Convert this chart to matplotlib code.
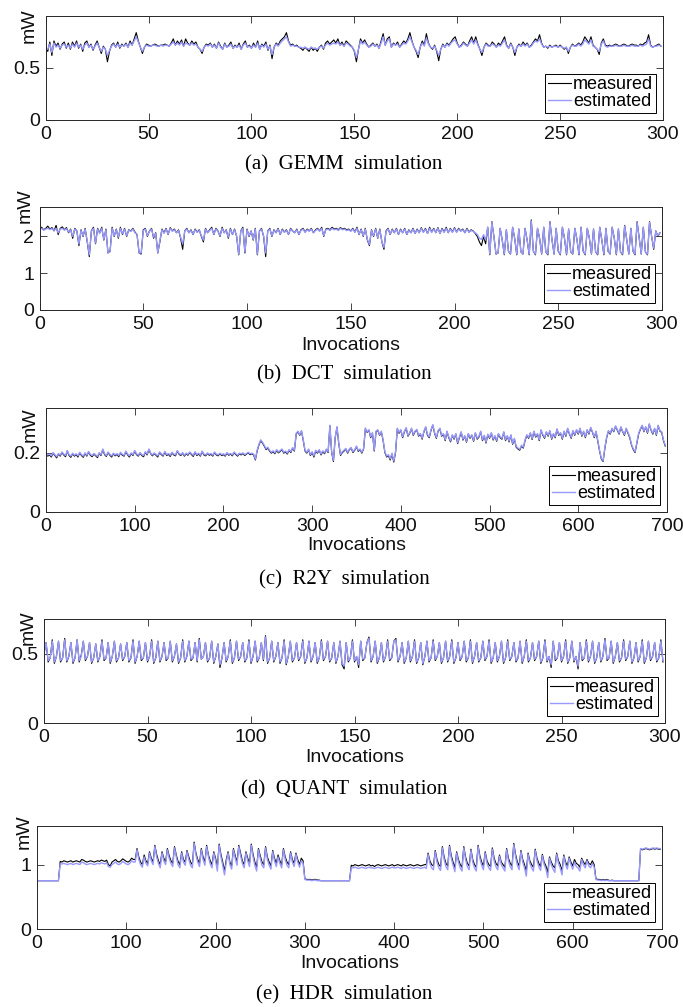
import numpy as np
import matplotlib
matplotlib.use('Agg')
import matplotlib.pyplot as plt
from matplotlib.ticker import FormatStrFormatter

# ---------------- data ----------------
gemm_measured = [
70,66,75,62,76,71,74,68,73,75, 69,74,68,75,71,76,69,73,66,74, 76,70,73,67,72,76,70,64,71,68,
56,66,72,74,70,75,69,73,71,74, 70,76,72,78,84,76,70,64,70,73, 72,71,72,73,72,71,72,72,73,72,
71,74,78,72,76,73,77,71,78,74, 72,76,73,75,70,68,64,70,73,72, 74,70,73,69,75,71,68,74,70,72,
75,69,72,70,74,68,73,76,70,72, 69,74,70,76,68,73,71,75,67,72, 59,70,74,72,76,78,80,84,76,72,
73,71,72,70,69,67,70,68,66,70, 67,69,66,70,72,68,74,76,73,75, 77,74,78,72,75,71,76,74,72,70,
66,56,68,78,74,77,73,70,72,74, 71,73,69,76,83,72,78,80,70,74, 72,75,70,73,76,74,78,84,76,70,
66,60,70,76,72,83,74,70,68,72, 66,57,68,73,70,74,72,75,78,80, 74,70,72,75,73,71,76,80,74,80,
73,68,62,70,74,72,71,75,73,70, 74,72,76,80,72,69,74,70,62,70, 73,71,75,72,74,70,72,75,78,76,
82,74,70,71,69,72,70,71,72,70, 72,70,68,70,64,70,73,71,72,74, 72,75,80,77,74,80,72,70,68,63,
74,78,72,71,72,71,72,73,72,71, 72,73,72,71,72,73,72,72,71,73, 72,74,75,82,72,70,71,72,73,71]
gemm_estimated = [
69,68,73,65,74,70,72,69,72,73, 70,72,69,73,70,74,70,72,68,72, 74,70,72,68,71,74,70,66,70,68,
62,67,71,73,70,73,70,72,71,73, 70,74,72,76,80,75,70,66,70,72, 71,71,72,72,71,71,72,71,72,72,
71,73,75,72,74,72,75,71,74,73, 72,74,72,73,70,68,66,70,72,71, 73,70,72,69,74,70,68,73,70,71,
73,69,71,70,72,68,72,74,70,71, 69,72,70,74,68,72,70,73,68,71, 63,70,73,71,74,76,78,80,75,71,
72,71,71,70,70,69,70,69,68,70, 69,69,68,70,71,69,72,74,72,73, 74,73,75,72,73,71,74,73,71,70,
67,60,68,76,73,75,72,70,71,73, 71,72,69,74,80,72,76,78,70,73, 72,73,70,72,74,73,76,80,75,70,
67,63,70,74,71,79,73,70,69,71, 67,62,68,72,70,73,71,74,76,77, 73,70,71,74,72,71,74,77,73,77,
72,68,65,70,73,71,71,73,72,70, 72,71,74,77,71,69,73,70,65,70, 72,71,73,71,73,70,71,74,76,75,
78,73,70,71,70,71,70,71,71,70, 71,70,69,70,66,70,72,71,71,73, 71,73,77,75,73,77,71,70,68,66,
73,76,71,70,71,71,71,72,71,71, 71,72,71,71,71,72,71,71,71,72, 71,72,73,78,71,70,71,71,72,71]

dct_measured = [
220,225,218,222,228,220,224,215,230,205, 222,226,218,224,210,220,195,222,215,175,
218,200,222,185,145,215,225,180,222,210, 225,190,220,155,160,225,200,220,195,225,
205,222,200,218,215,222,212,205,155,152, 218,222,200,215,222,195,210,155,185,220,
210,222,205,224,215,220,210,218,195,165, 215,222,210,218,205,220,212,218,200,185,
222,210,218,225,205,222,215,200,225,210, 218,195,222,205,220,200,150,215,225,155,
220,200,215,190,222,150,215,222,200,145, 215,222,200,218,210,222,205,220,212,218,
205,222,215,210,220,205,218,222,212,220, 215,222,210,218,222,215,225,200,220,222,
218,225,220,222,218,224,220,222,218,220, 215,222,212,225,205,220,200,222,190,175,
218,200,222,195,220,185,165,215,222,205, 220,210,222,205,220,210,222,205,218,210,
222,208,220,210,224,212,222,208,225,212, 222,210,224,208,222,212,225,210,222,212,
224,212,222,215,220,210,222,212,218,215, 208,200,185,175,200,180,225,150,240,200,
152,155,222,190,150,218,160,152,225,195, 150,220,158,152,222,190,150,245,160,150,
222,195,152,225,158,150,240,190,152,222, 160,150,225,195,150,220,158,152,222,192,
150,225,160,150,222,195,152,220,158,150, 225,190,150,222,160,152,225,195,150,220,
158,150,230,192,152,222,160,150,240,195, 152,225,158,150,240,200,165,215,200,210]
dct_estimated = [
218,222,217,220,222,219,221,216,222,210, 220,222,217,221,212,218,200,220,214,180,
216,202,220,188,150,214,222,182,220,208, 222,192,218,155,158,222,202,218,198,222,
207,220,202,216,214,220,210,206,155,155, 216,220,202,214,220,198,208,155,188,218,
208,220,206,222,214,218,210,216,198,180, 214,220,210,216,206,218,211,216,202,190,
220,210,216,222,206,220,214,202,222,210, 216,198,220,206,218,202,152,214,222,158,
218,202,214,192,220,152,214,220,202,155, 214,220,202,216,210,220,206,218,211,216,
206,220,214,210,218,206,216,220,211,218, 214,220,210,216,220,214,222,202,218,220,
216,222,218,220,216,222,218,220,216,218, 214,220,211,222,206,218,202,220,192,178,
216,202,220,196,218,186,170,214,220,206, 218,210,220,206,218,210,220,206,216,210,
220,208,218,210,222,211,220,208,222,211, 220,210,222,208,220,211,222,210,220,211,
222,211,220,214,218,210,220,211,216,214, 210,205,195,192,205,190,225,152,238,200,
153,155,222,190,152,218,160,153,225,195, 152,220,158,153,222,190,152,242,160,152,
222,195,153,225,158,152,238,190,153,222, 160,152,225,195,152,220,158,153,222,192,
152,225,160,152,222,195,153,220,158,152, 225,190,152,222,160,153,225,195,152,220,
158,152,228,192,153,222,160,152,238,195, 153,225,158,152,238,200,168,214,202,210]

# R2Y: one value every 2 invocations (thousandths of mW)
r2y_measured = [
195,188,192,185,198,190,182,195,188,200, 192,186,205,190,184,196,188,193,185,199,
190,184,197,188,202,191,186,195,189,183, 198,190,210,193,187,200,191,185,196,189,
194,186,199,191,188,203,192,185,197,190, 205,193,188,198,190,186,201,192,210,196,
189,197,191,185,200,193,188,202,190,194, 187,199,192,189,205,194,190,198,188,196,
191,200,193,187,201,190,195,188,203,192, 189,197,191,194,188,200,192,189,196,190,
193,188,198,191,195,189,200,193,188,196, 192,197,190,195,199,193,196,192,175,205,
225,240,232,222,210,215,205,198,203,196, 207,199,204,210,198,202,195,208,200,215,
205,262,270,258,272,240,205,198,210,190, 200,185,205,198,208,192,203,196,210,200,
290,200,170,250,285,230,190,200,205,212, 198,210,215,200,208,220,204,210,198,212,
280,268,275,250,265,205,270,275,258,270, 240,200,185,190,175,195,168,200,280,265,
275,250,270,282,255,265,280,258,270,276, 255,262,245,270,285,258,250,275,292,265,
248,272,280,255,262,240,270,250,236,258, 245,262,230,250,268,242,255,235,262,248,
258,238,265,245,252,270,240,256,232,260, 248,265,242,255,238,262,250,245,268,240,
255,236,258,228,245,218,212,208,222,215, 240,258,248,265,244,270,252,262,240,275,
258,248,268,255,272,245,262,250,278,258, 265,245,270,255,280,262,248,272,258,275,
262,280,255,270,250,275,262,283,268,250, 270,238,205,178,170,215,250,272,262,280,
270,288,275,262,285,270,258,280,265,250, 225,210,200,232,262,278,290,270,285,265,
295,275,262,280,258,290,272,268,240,222]
r2y_estimated = [
198,192,195,189,200,193,186,197,191,202, 195,190,207,193,188,198,191,196,189,201,
193,188,199,191,204,194,190,197,192,187, 200,193,212,196,190,202,194,189,198,192,
197,190,201,194,191,205,195,189,199,193, 207,196,191,200,193,190,203,195,212,198,
192,199,194,189,202,196,191,204,193,197, 191,201,195,192,207,197,193,200,191,198,
194,202,196,191,203,193,198,191,205,195, 192,199,194,197,191,202,195,192,198,193,
196,191,200,194,197,192,202,196,191,198, 195,199,193,197,201,196,198,195,178,208,
228,243,235,225,213,218,208,201,206,199, 210,202,207,212,201,205,198,210,203,217,
208,265,272,260,274,243,208,201,212,193, 203,189,208,201,210,195,206,199,212,203,
292,203,174,252,287,233,193,203,208,214, 201,212,217,203,210,222,207,212,201,214,
283,270,277,253,267,208,272,277,260,272, 243,203,188,193,179,198,172,203,282,268,
277,253,272,284,258,267,282,261,272,278, 258,264,248,272,287,261,253,277,294,268,
251,274,282,258,264,243,272,253,239,260, 248,264,233,253,270,245,257,238,264,251,
260,241,267,248,255,272,243,258,235,262, 251,267,245,257,241,264,253,248,270,243,
257,239,260,231,248,221,215,211,225,218, 243,260,251,267,247,272,255,264,243,277,
261,251,270,258,274,248,264,253,280,261, 267,248,272,258,282,264,251,274,261,277,
265,282,258,272,253,277,265,285,270,253, 272,241,208,181,173,218,253,274,265,282,
272,290,277,265,287,272,261,282,268,253, 228,213,203,235,265,280,292,272,287,268,
297,277,265,282,261,292,274,270,243,225]

quant_measured = [
50,58,44,47,60,43,48,59,44,47,61,44,48,58,43,47,60,44,49,59,45,48,58,43,47,57,44,48,60,45,
47,58,43,48,59,44,47,57,45,48,58,44,47,60,43,48,59,45,47,58,44,48,60,43,47,59,44,48,58,45,
47,59,44,48,57,43,47,60,44,48,59,45,47,58,44,61,46,48,58,44,47,59,43,48,57,40,47,58,44,48,
60,43,47,59,45,48,58,44,47,60,43,48,59,44,47,58,45,63,43,47,59,44,48,58,43,47,60,42,48,59,
44,47,58,45,48,60,43,47,59,44,48,58,43,47,60,45,48,59,44,47,58,43,48,59,42,39,58,44,47,60,
44,48,40,59,45,47,58,62,44,48,59,43,47,58,44,48,60,45,47,59,61,44,48,58,43,47,59,44,48,60,
43,47,58,42,48,59,44,47,60,45,48,58,43,47,59,44,48,60,43,47,58,45,48,59,44,47,60,43,48,58,
44,47,59,45,48,60,43,47,58,44,48,59,43,47,60,45,48,58,44,47,59,43,48,60,44,47,58,45,48,59,
43,47,60,44,48,40,59,45,47,58,44,48,60,43,47,59,44,48,39,58,45,47,60,44,48,59,43,47,58,44,
48,61,45,47,59,43,48,58,44,47,60,45,48,59,43,47,58,44,48,60,43,47,59,45,48,58,44,47,60,44]
quant_estimated = [
50,58,45,47,59,44,48,59,45,47,60,45,48,58,44,47,60,45,48,59,46,48,58,44,47,57,45,48,59,46,
47,58,44,48,59,45,47,57,46,48,58,45,47,59,44,48,59,46,47,58,45,48,59,44,47,59,45,48,58,46,
47,59,45,48,57,44,47,59,45,48,59,46,47,58,45,60,46,48,58,45,47,59,44,48,57,42,47,58,45,48,
59,44,47,59,46,48,58,45,47,59,44,48,59,45,47,58,46,62,44,47,59,45,48,58,44,47,59,43,48,59,
45,47,58,46,48,59,44,47,59,45,48,58,44,47,59,46,48,59,45,47,58,44,48,59,43,41,58,45,47,59,
45,48,42,59,46,47,58,61,45,48,59,44,47,58,45,48,59,46,47,59,60,45,48,58,44,47,59,45,48,59,
44,47,58,43,48,59,45,47,59,46,48,58,44,47,59,45,48,59,44,47,58,46,48,59,45,47,59,44,48,58,
45,47,59,46,48,59,44,47,58,45,48,59,44,47,59,46,48,58,45,47,59,44,48,59,45,47,58,46,48,59,
44,47,59,45,48,42,59,46,47,58,45,48,59,44,47,59,45,48,41,58,46,47,59,45,48,59,44,47,58,45,
48,60,46,47,59,44,48,58,45,47,59,46,48,59,44,47,58,45,48,59,44,47,59,46,48,58,45,47,59,45]

# HDR: one value every 2 invocations (hundredths of mW)
hdr_measured = [
75,75,75,75,75,75,75,75,75,75,75,75,75,
105,104,106,105,104,105,106,104,105,106,105,104,108,107,105,104,105,106,105,104,105,106,105,107,106,105,107,
100,98,104,106,108,105,104,106,109,107,105,104,106,110,108,
108,125,112,104,100,115,106,102,120,110, 104,130,116,106,100,120,110,104,125,114,
106,102,128,115,105,100,120,108,104,122, 112,104,100,135,118,108,102,125,112,104,
130,115,106,100,120,110,96,132,116,104, 90,108,120,104,98,125,114,104,130,118,
106,100,120,110,102,132,116,104,96,125, 114,104,100,128,112,104,98,122,110,102,
115,106,100,125,112,104,100,120,108,102, 118,108,100,110,106,
78,77,77,77,76,77,77,76,76,75,75,75,75,75,75,75,75,75,75,75,75,75,75,75,75,75,
99,98,100,99,98,99,100,99,98,99,100,98,99,97,99,100,99,98,99,100,99,98,99,100,98,99,100,99,98,100,99,98,99,100,99,98,99,100,99,98,99,100,
100,118,106,100,98,122,108,100,97,128, 112,102,98,130,114,104,95,120,108,100,
96,128,112,102,98,124,108,100,96,130, 114,104,98,120,106,100,97,126,110,102,
98,115,104,100,96,125,110,102,98,133, 116,104,98,122,108,100,90,118,106,100,
96,124,110,102,97,116,104,98,88,112, 104,98,95,118,106,100,90,115,104,98,
112,104,98,108,102,100,96,110,104,100, 108,102,100,106,100,
78,77,77,76,77,76,77,76,75,76,75,75,75,75,75,75,75,75,75,75,75,75,75,75,75,
124,123,124,125,124,123,124,125,124,125,124,124]
hdr_estimated = [
75,75,75,75,75,75,75,75,75,75,75,75,75,
101,101,102,101,100,101,102,100,101,102,101,100,104,103,101,100,101,102,101,100,101,102,101,103,102,101,103,
97,96,100,102,104,101,100,102,105,103,101,100,102,106,104,
104,123,108,100,96,112,102,98,118,106, 100,128,112,102,95,118,106,100,123,110,
102,97,126,112,100,95,118,104,99,120, 108,99,95,133,115,104,97,123,108,99,
128,112,101,95,118,106,90,130,112,99, 84,104,118,100,93,123,110,99,128,114,
102,95,118,106,97,130,112,99,90,123, 110,99,95,126,108,99,93,120,106,97,
112,102,95,123,108,99,95,118,104,97, 116,104,96,106,102,
77,76,76,76,75,76,76,75,75,75,75,75,75,75,75,75,75,75,75,75,75,75,75,75,75,75,
95,95,96,95,94,95,96,95,94,95,96,95,95,94,95,96,95,94,95,96,95,94,95,96,95,95,96,95,94,96,95,94,95,96,95,94,95,96,95,94,95,96,
94,116,102,95,92,120,104,95,91,126, 108,97,92,128,110,99,89,118,104,95,
90,126,108,97,92,122,104,95,90,128, 110,99,92,118,102,95,91,124,106,97,
92,113,100,95,90,123,106,97,92,131, 112,99,92,120,104,95,82,116,102,95,
90,122,106,97,91,114,100,93,80,110, 100,93,88,116,102,95,84,113,100,93,
110,100,93,104,97,95,90,108,100,95, 106,98,95,102,96,
77,76,76,75,76,75,76,75,75,75,75,75,75,75,75,75,75,75,75,75,75,75,75,75,75,
125,124,125,126,125,124,125,126,125,126,125,125]

captions = ['(a)  GEMM  simulation', '(b)  DCT  simulation', '(c)  R2Y  simulation',
            '(d)  QUANT  simulation', '(e)  HDR  simulation']
legend_labels = ['measured', 'estimated']
x_label = 'Invocations'
y_label = 'mW'

# ---------------- layout ----------------
W, H, DPI = 683, 1007, 100
fig = plt.figure(figsize=(W / DPI, H / DPI), dpi=DPI)
fig.patch.set_facecolor('white')
plt.rcParams['font.family'] = ['Liberation Sans', 'DejaVu Sans']

EDGE = '#262626'
BLUE = '#9999ff'

panels = [
    dict(box=(45.7, 16, 663, 120), m=gemm_measured, e=gemm_estimated, scale=100, step=1,
         xmax=300, xt=np.arange(0, 301, 50), ytop=1.0, yt=[0, 0.5], xl=None,
         cap_y=165, mw=(-17, 10)),
    dict(box=(39.5, 207, 662, 310), m=dct_measured, e=dct_estimated, scale=100, step=1,
         xmax=300, xt=np.arange(0, 301, 50), ytop=2.8, yt=[0, 1, 2], xl=345,
         cap_y=375, mw=(-14, -1)),
    dict(box=(46, 408, 667, 512), m=r2y_measured, e=r2y_estimated, scale=1000, step=2,
         xmax=700, xt=np.arange(0, 701, 100), ytop=0.35, yt=[0, 0.2], xl=546,
         cap_y=580, mw=(-16, 17)),
    dict(box=(44, 619, 665, 723), m=quant_measured, e=quant_estimated, scale=100, step=1,
         xmax=300, xt=np.arange(0, 301, 50), ytop=0.75, yt=[0, 0.5], xl=757,
         cap_y=790, mw=(-16, 9)),
    dict(box=(37, 826, 662, 929), m=hdr_measured, e=hdr_estimated, scale=100, step=2,
         xmax=700, xt=np.arange(0, 701, 100), ytop=1.6, yt=[0, 1], xl=963,
         cap_y=995, mw=(-13, 6)),
]

for p, cap in zip(panels, captions):
    l, t, r, b = p['box']
    ax = fig.add_axes([l / W, 1 - b / H, (r - l) / W, (b - t) / H])
    m = np.array(p['m'], dtype=float) / p['scale']
    e = np.array(p['e'], dtype=float) / p['scale']
    xm = np.arange(len(m)) * p['step']
    xe = np.arange(len(e)) * p['step']
    ax.plot(xm, m, color='black', lw=0.8, label=legend_labels[0])
    ax.plot(xe, e, color=BLUE, lw=1.0, label=legend_labels[1])
    ax.set_xlim(0, p['xmax'])
    ax.set_ylim(0, p['ytop'])
    ax.set_xticks(p['xt'])
    ax.set_yticks(p['yt'])
    ax.yaxis.set_major_formatter(FormatStrFormatter('%g'))
    ax.tick_params(direction='in', top=True, right=True, length=5, width=0.6,
                   labelsize=14, pad=4, color=EDGE, labelcolor='#111111')
    for s in ax.spines.values():
        s.set_color(EDGE)
        s.set_linewidth(0.7)
    axw, axh = r - l, b - t
    leg = ax.legend(loc='lower right', bbox_to_anchor=(1 - 7 / axw, 7 / axh),
                    borderaxespad=0, fontsize=13, handlelength=1.3, handletextpad=0.1,
                    borderpad=0.15, labelspacing=0.0, fancybox=False, framealpha=1,
                    edgecolor='black')
    leg.get_frame().set_linewidth(0.7)
    ax.annotate(y_label, xy=(0, 1), xycoords='axes fraction', xytext=(p['mw'][0], -p['mw'][1]),
                textcoords='offset pixels', rotation=90, ha='center', va='center',
                fontsize=14, color='#111111')
    cx = (l + r) / 2
    if p['xl'] is not None:
        fig.text(cx / W, 1 - p['xl'] / H, x_label, ha='center', va='center',
                 fontsize=14, color='#111111')
    fig.text(344 / W, 1 - p['cap_y'] / H, cap, ha='center', va='center',
             fontsize=15, family=['Liberation Serif', 'DejaVu Serif'], color='black')

fig.savefig('out.png', dpi=DPI)
